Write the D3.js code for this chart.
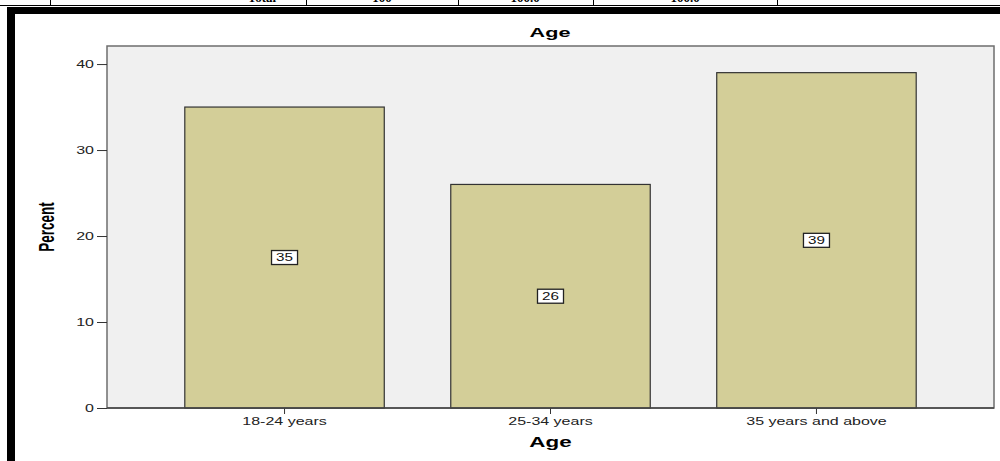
<!DOCTYPE html>
<html>
<head>
<meta charset="utf-8">
<script src="https://cdn.jsdelivr.net/npm/d3@7"></script>
<style>
  body { margin: 0; background: #fff; }
  svg { display: block; font-family: "Liberation Sans", Arial, sans-serif; }
</style>
</head>
<body>
<div id="chart"></div>
<script>
var categories = ["18-24 years", "25-34 years", "35 years and above"];
var percents = [35, 26, 39];
var yTicks = [0, 10, 20, 30, 40];
var tableCells = ["Total", "100", "100.0", "100.0"];
var tableLines = [50, 306, 458, 593, 777];
var tableTextX = [262, 382, 525, 685];

var width = 1000,
    height = 461,
    stretch = 1.6;

var plot = { left: 107, right: 994, top: 46, bottom: 408 };

var svg = d3.select("#chart").append("svg")
    .attr("width", width)
    .attr("height", height);

// bits of the table above the chart
svg.selectAll(".cellText")
    .data(tableCells)
  .enter().append("text")
    .attr("x", function(d, i) { return tableTextX[i]; })
    .attr("y", 2)
    .attr("text-anchor", "middle")
    .attr("font-family", "'Liberation Serif', serif")
    .attr("font-weight", "bold")
    .attr("font-size", 13)
    .text(function(d) { return d; });

svg.selectAll(".cellLine")
    .data(tableLines)
  .enter().append("line")
    .attr("x1", function(d) { return d + 0.5; })
    .attr("x2", function(d) { return d + 0.5; })
    .attr("y1", 0)
    .attr("y2", 6)
    .attr("stroke", "#000");

svg.append("line")
    .attr("x1", 0).attr("x2", width)
    .attr("y1", 5.5).attr("y2", 5.5)
    .attr("stroke", "#000");

// black frame
svg.append("rect").attr("x", 7).attr("y", 7).attr("width", width - 7).attr("height", 7).attr("fill", "#000");
svg.append("rect").attr("x", 7).attr("y", 7).attr("width", 8).attr("height", height - 7).attr("fill", "#000");

var x = d3.scaleBand()
    .domain(categories)
    .range([plot.left, plot.right])
    .paddingInner(0.25)
    .paddingOuter(0.2925);

var y = d3.scaleLinear()
    .domain([0, 42.1])
    .range([plot.bottom, plot.top]);

svg.append("rect")
    .attr("x", plot.left)
    .attr("y", plot.top)
    .attr("width", plot.right - plot.left)
    .attr("height", plot.bottom - plot.top)
    .attr("fill", "#f0f0f0")
    .attr("stroke", "#6e6e6e")
    .attr("stroke-width", 1.5);

var data = categories.map(function(c, i) { return { cat: c, value: percents[i] }; });

svg.selectAll(".bar")
    .data(data)
  .enter().append("rect")
    .attr("x", function(d) { return x(d.cat); })
    .attr("y", function(d) { return y(d.value); })
    .attr("width", x.bandwidth())
    .attr("height", function(d) { return y(0) - y(d.value); })
    .attr("fill", "#d3ce98")
    .attr("stroke", "#333")
    .attr("stroke-width", 1.2);

// value boxes
var lab = svg.selectAll(".lab")
    .data(data)
  .enter().append("g")
    .attr("transform", function(d) {
      return "translate(" + (x(d.cat) + x.bandwidth() / 2) + "," + y(d.value / 2) + ")";
    });

lab.append("rect")
    .attr("x", -13).attr("y", -7)
    .attr("width", 26).attr("height", 14)
    .attr("fill", "#fff")
    .attr("stroke", "#222")
    .attr("stroke-width", 1.3);

lab.append("text")
    .attr("text-anchor", "middle")
    .attr("dy", "0.36em")
    .attr("font-size", 10.5)
    .attr("fill", "#111")
    .attr("transform", "scale(1.45,1)")
    .text(function(d) { return d.value; });

// axes
var yAxis = svg.append("g")
    .attr("transform", "translate(" + plot.left + ",0)")
    .call(d3.axisLeft(y).tickValues(yTicks).tickSize(10).tickPadding(3));

yAxis.select(".domain").remove();
yAxis.selectAll("line").attr("stroke", "#333");
yAxis.selectAll("text")
    .attr("x", 0)
    .attr("transform", "translate(-13,0) scale(" + stretch + ",1)")
    .attr("font-size", 10)
    .attr("font-family", "'Liberation Sans', Arial, sans-serif")
    .attr("fill", "#222");

var xAxis = svg.append("g")
    .attr("transform", "translate(0," + plot.bottom + ")")
    .call(d3.axisBottom(x).tickSize(6).tickPadding(4));

xAxis.select(".domain").remove();
xAxis.selectAll("line").attr("stroke", "#333");
xAxis.selectAll("text")
    .attr("transform", "scale(" + stretch + ",1)")
    .attr("font-size", 10)
    .attr("font-family", "'Liberation Sans', Arial, sans-serif")
    .attr("fill", "#222");

svg.append("line")
    .attr("x1", plot.left).attr("x2", plot.right)
    .attr("y1", plot.bottom).attr("y2", plot.bottom)
    .attr("stroke", "#444").attr("stroke-width", 1.5);

// titles
svg.append("text")
    .attr("transform", "translate(550,37) scale(" + stretch + ",1)")
    .attr("text-anchor", "middle")
    .attr("font-size", 13.5)
    .attr("font-weight", "bold")
    .text("Age");

svg.append("text")
    .attr("transform", "translate(" + ((plot.left + plot.right) / 2) + ",447) scale(" + stretch + ",1)")
    .attr("text-anchor", "middle")
    .attr("font-size", 14)
    .attr("font-weight", "bold")
    .text("Age");

svg.append("text")
    .attr("transform", "translate(54," + ((plot.top + plot.bottom) / 2) + ") scale(" + stretch + ",1) rotate(-90)")
    .attr("text-anchor", "middle")
    .attr("font-size", 13.5)
    .attr("font-weight", "bold")
    .text("Percent");
</script>
</body>
</html>
